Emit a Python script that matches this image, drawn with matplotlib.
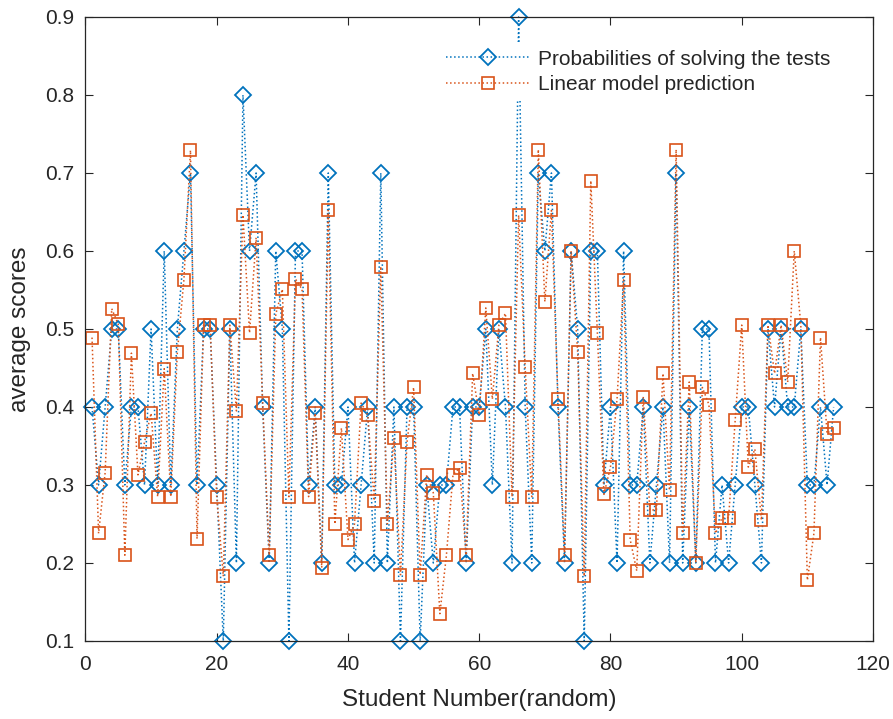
import matplotlib
matplotlib.use('Agg')
import matplotlib.pyplot as plt
import numpy as np

# 字体
plt.rcParams['font.family'] = ['Liberation Sans', 'DejaVu Sans']

# 学生编号 1..114
student = np.arange(1, 115)

# 解题概率（蓝色菱形）
prob = [0.4, 0.3, 0.4, 0.5, 0.5, 0.3, 0.4, 0.4, 0.3, 0.5,
        0.3, 0.6, 0.3, 0.5, 0.6, 0.7, 0.3, 0.5, 0.5, 0.3,
        0.1, 0.5, 0.2, 0.8, 0.6, 0.7, 0.4, 0.2, 0.6, 0.5,
        0.1, 0.6, 0.6, 0.3, 0.4, 0.2, 0.7, 0.3, 0.3, 0.4,
        0.2, 0.3, 0.4, 0.2, 0.7, 0.2, 0.4, 0.1, 0.4, 0.4,
        0.1, 0.3, 0.2, 0.3, 0.3, 0.4, 0.4, 0.2, 0.4, 0.4,
        0.5, 0.3, 0.5, 0.4, 0.2, 0.9, 0.4, 0.2, 0.7, 0.6,
        0.7, 0.4, 0.2, 0.6, 0.5, 0.1, 0.6, 0.6, 0.3, 0.4,
        0.2, 0.6, 0.3, 0.3, 0.4, 0.2, 0.3, 0.4, 0.2, 0.7,
        0.2, 0.4, 0.2, 0.5, 0.5, 0.2, 0.3, 0.2, 0.3, 0.4,
        0.4, 0.3, 0.2, 0.5, 0.4, 0.5, 0.4, 0.4, 0.5, 0.3,
        0.3, 0.4, 0.3, 0.4]

# 线性模型预测（橙色方块）
pred = [0.489, 0.238, 0.316, 0.526, 0.506, 0.210, 0.469, 0.313, 0.355, 0.392,
        0.285, 0.449, 0.285, 0.470, 0.563, 0.729, 0.231, 0.505, 0.505, 0.285,
        0.183, 0.505, 0.395, 0.646, 0.495, 0.617, 0.405, 0.210, 0.519, 0.551,
        0.285, 0.564, 0.551, 0.285, 0.392, 0.194, 0.652, 0.250, 0.373, 0.230,
        0.250, 0.405, 0.390, 0.280, 0.580, 0.250, 0.360, 0.185, 0.355, 0.425,
        0.185, 0.313, 0.290, 0.135, 0.210, 0.313, 0.322, 0.210, 0.443, 0.390,
        0.527, 0.410, 0.505, 0.520, 0.285, 0.646, 0.451, 0.285, 0.730, 0.535,
        0.652, 0.410, 0.210, 0.600, 0.470, 0.183, 0.690, 0.495, 0.288, 0.323,
        0.410, 0.563, 0.230, 0.190, 0.413, 0.268, 0.268, 0.443, 0.293, 0.730,
        0.238, 0.432, 0.200, 0.425, 0.403, 0.238, 0.258, 0.258, 0.383, 0.505,
        0.323, 0.346, 0.255, 0.505, 0.443, 0.505, 0.432, 0.600, 0.505, 0.178,
        0.238, 0.489, 0.366, 0.373]

xticks = [0, 20, 40, 60, 80, 100, 120]
yticks = [0.1, 0.2, 0.3, 0.4, 0.5, 0.6, 0.7, 0.8, 0.9]

dark = '#262626'

fig = plt.figure(figsize=(8.93, 7.19), dpi=100)
ax = fig.add_axes([0.0957, 0.1085, 0.8819, 0.8679])

ax.plot(student, prob, ':', color='#0072BD', lw=1.1, marker='D', ms=8.5,
        mfc='none', mew=1.3, clip_on=False,
        label='Probabilities of solving the tests')
ax.plot(student, pred, ':', color='#D95319', lw=1.1, marker='s', ms=8,
        mfc='none', mew=1.2, clip_on=False,
        label='Linear model prediction')

ax.set_xlim(0, 120)
ax.set_ylim(0.1, 0.9)
ax.set_xticks(xticks)
ax.set_yticks(yticks)
ax.set_yticklabels(['%.1f' % v for v in yticks])
ax.tick_params(direction='in', top=True, right=True, length=5.5, width=0.8,
               labelsize=15, colors=dark)
ax.tick_params(axis='x', pad=10)
ax.tick_params(axis='y', pad=8)
for s in ax.spines.values():
    s.set_color(dark)
    s.set_linewidth(0.9)

ax.set_xlabel('Student Number(random)', fontsize=17.5, color=dark, labelpad=11)
ax.set_ylabel('average scores', fontsize=17.5, color=dark, labelpad=10)

leg = ax.legend(loc='upper left', bbox_to_anchor=(0.4915, 0.941),
                bbox_transform=fig.transFigure, fontsize=15, frameon=True,
                fancybox=False, borderaxespad=0, borderpad=0.35,
                handlelength=4, handletextpad=0.4, labelspacing=0.3)
leg.get_frame().set_edgecolor('none')
leg.get_frame().set_facecolor('white')
leg.get_frame().set_alpha(1)
for t in leg.get_texts():
    t.set_color(dark)

plt.savefig('out.png', dpi=100)
